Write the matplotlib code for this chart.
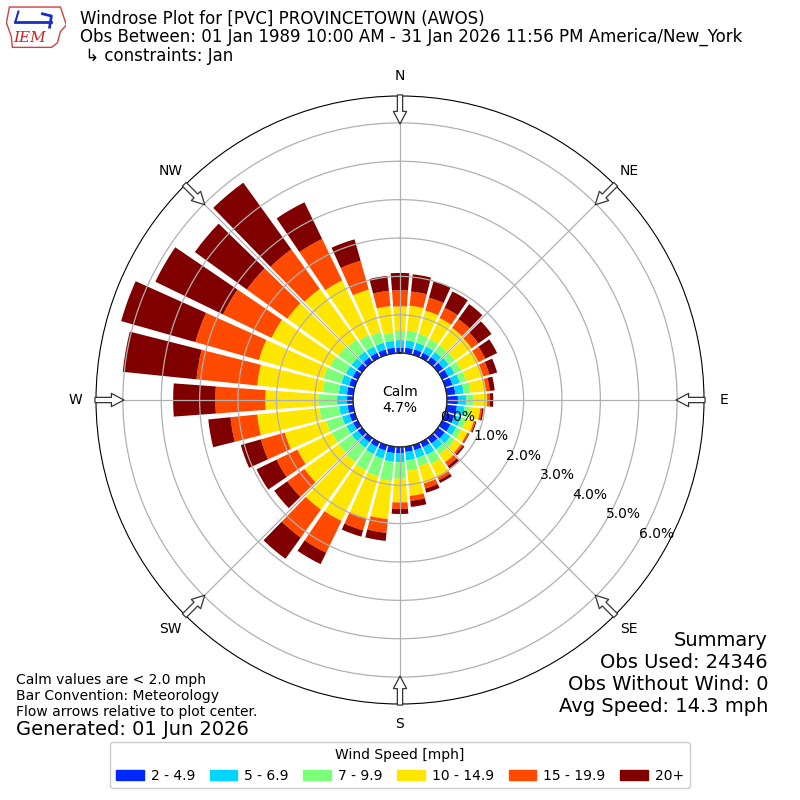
#!/usr/bin/env python3
import numpy as np
import matplotlib
matplotlib.use("Agg")
import matplotlib.pyplot as plt
from matplotlib.patches import Rectangle, Polygon

# wind directions (deg, meteorological) and frequency [%] per speed bin
directions = np.arange(0, 360, 10)
speed_labels = ["2 - 4.9", "5 - 6.9", "7 - 9.9", "10 - 14.9", "15 - 19.9", "20+"]
colors = ["#0028ff", "#00d4ff", "#7cff79", "#ffe600", "#ff4a00", "#800000"]

s2_5 = [0.15, 0.15, 0.15, 0.15, 0.16, 0.17, 0.18, 0.20, 0.23, 0.29, 0.27, 0.25,
        0.24, 0.22, 0.18, 0.15, 0.14, 0.14, 0.17, 0.17, 0.15, 0.14, 0.14, 0.14,
        0.14, 0.15, 0.15, 0.16, 0.17, 0.16, 0.15, 0.15, 0.15, 0.15, 0.15, 0.15]
s5_7 = [0.19, 0.19, 0.18, 0.18, 0.17, 0.18, 0.18, 0.20, 0.22, 0.22, 0.20, 0.18,
        0.17, 0.18, 0.19, 0.22, 0.21, 0.22, 0.23, 0.23, 0.22, 0.21, 0.18, 0.19,
        0.19, 0.20, 0.22, 0.26, 0.21, 0.21, 0.20, 0.19, 0.19, 0.18, 0.18, 0.18]
s7_10 = [0.24, 0.26, 0.24, 0.22, 0.21, 0.20, 0.19, 0.17, 0.18, 0.19, 0.15, 0.14,
         0.14, 0.14, 0.16, 0.26, 0.22, 0.27, 0.43, 0.50, 0.48, 0.47, 0.46, 0.42,
         0.42, 0.43, 0.52, 0.49, 0.42, 0.48, 0.45, 0.42, 0.38, 0.33, 0.29, 0.21]
s10_15 = [0.64, 0.65, 0.63, 0.60, 0.56, 0.53, 0.50, 0.46, 0.40, 0.35, 0.26, 0.21,
          0.18, 0.20, 0.25, 0.39, 0.47, 0.66, 0.62, 1.00, 1.13, 1.46, 1.52, 1.10,
          1.00, 1.12, 1.63, 1.38, 1.72, 1.75, 1.70, 1.64, 1.63, 1.58, 1.15, 0.70]
s15_20 = [0.42, 0.37, 0.35, 0.30, 0.28, 0.22, 0.20, 0.17, 0.10, 0.07, 0.05, 0.04,
          0.04, 0.06, 0.12, 0.08, 0.14, 0.13, 0.17, 0.36, 0.33, 0.92, 0.90, 0.55,
          0.60, 0.65, 0.70, 1.30, 1.59, 1.72, 1.40, 1.30, 1.27, 1.20, 0.78, 0.40]
s20p = [0.45, 0.45, 0.44, 0.47, 0.48, 0.42, 0.34, 0.21, 0.13, 0.09, 0.04, 0.03,
        0.02, 0.05, 0.08, 0.08, 0.11, 0.16, 0.13, 0.21, 0.17, 0.33, 0.68, 0.42,
        0.58, 0.54, 0.58, 1.10, 1.93, 2.01, 1.96, 1.67, 2.14, 1.06, 0.58, 0.39]
series = [s2_5, s5_7, s7_10, s10_15, s15_20, s20p]

calm_pct = 4.7
rmax = 6.7
hole = 1.22

fig = plt.figure(figsize=(8, 8), dpi=100)
ax = fig.add_axes([0.12, 0.12, 0.76, 0.76], projection="polar")
ax.set_theta_zero_location("N")
ax.set_theta_direction(-1)
ax.set_rorigin(-hole)
ax.set_ylim(0, rmax)

theta = np.deg2rad(directions)
width = np.deg2rad(8.4)
bottom = np.zeros(len(directions))
handles = []
for vals, col, lab in zip(series, colors, speed_labels):
    vals = np.array(vals)
    ax.bar(theta, vals, width=width, bottom=bottom, color=col, edgecolor="none",
           zorder=2)
    bottom = bottom + vals
    handles.append(Rectangle((0, 0), 1, 1, color=col, label=lab))

# grid
ax.set_yticks(range(7))
ax.set_yticklabels([f"{v:.1f}%" for v in range(7)], fontsize=10)
ax.set_rlabel_position(120.5)
ax.set_thetagrids(range(0, 360, 45), labels=["N", "NE", "E", "SE", "S", "SW", "W", "NW"])
ax.tick_params(axis="x", pad=4, labelsize=10)
ax.grid(True, color="#b0b0b0", lw=0.9, zorder=3)
ax.set_axisbelow(False)
t = np.linspace(0, 2 * np.pi, 361)
ax.plot(t, np.zeros_like(t), color="k", lw=1, zorder=4)

# flow arrows at the frame
for d in range(0, 360, 45):
    ax.annotate("", xy=(np.deg2rad(d), rmax - 0.8), xytext=(np.deg2rad(d), rmax + 0.1),
                arrowprops=dict(arrowstyle="simple,head_length=0.9,head_width=0.95,tail_width=0.38",
                                fc="white", ec="#333333", lw=0.9),
                annotation_clip=False, zorder=5)

ax.text(0.5, 0.5, f"Calm\n{calm_pct}%", transform=ax.transAxes, ha="center",
        va="center", fontsize=10, zorder=6)

# titles
fig.text(0.1, 0.976, "Windrose Plot for [PVC] PROVINCETOWN (AWOS)", fontsize=12, va="center")
fig.text(0.1, 0.954, "Obs Between: 01 Jan 1989 10:00 AM - 31 Jan 2026 11:56 PM America/New_York",
         fontsize=12, va="center")
fig.text(0.1, 0.930, " \u21b3 constraints: Jan", fontsize=12, va="center")

# logo
lax = fig.add_axes([0.008, 0.938, 0.075, 0.056])
lax.set_xlim(0, 1)
lax.set_ylim(0, 1)
lax.axis("off")
iowa = [(0.05, 0.95), (0.9, 0.95), (0.95, 0.75), (1.0, 0.55), (0.9, 0.4),
        (0.85, 0.15), (0.75, 0.05), (0.1, 0.05), (0.08, 0.3), (0.0, 0.6)]
lax.add_patch(Polygon(iowa, closed=True, fc="white", ec="#d04040", lw=1))
lax.plot([0.15, 0.75], [0.62, 0.62], color="#1a2fbf", lw=2)
lax.plot([0.15, 0.2], [0.62, 0.85], color="#1a2fbf", lw=1.5)
lax.plot([0.6, 0.75, 0.72], [0.8, 0.75, 0.5], color="#1a2fbf", lw=2)
lax.text(0.38, 0.25, "IEM", color="#d02020", fontsize=11, family="serif",
         style="italic", ha="center", va="center")

# notes
fig.text(0.02, 0.150, "Calm values are < 2.0 mph", fontsize=10, va="center")
fig.text(0.02, 0.130, "Bar Convention: Meteorology", fontsize=10, va="center")
fig.text(0.02, 0.110, "Flow arrows relative to plot center.", fontsize=10, va="center")
fig.text(0.02, 0.088, "Generated: 01 Jun 2026", fontsize=14, va="center")

summary = ["Summary", "Obs Used: 24346", "Obs Without Wind: 0", "Avg Speed: 14.3 mph"]
for i, line in enumerate(summary):
    fig.text(0.96, 0.200 - i * 0.0275, line, fontsize=14, ha="right", va="center")

fig.legend(handles=handles, loc="lower center", bbox_to_anchor=(0.5, 0.006), ncol=6,
           title="Wind Speed [mph]", fontsize=10, title_fontsize=10,
           handlelength=2.0, handletextpad=0.5, columnspacing=1.05, framealpha=1)

fig.savefig("out.png", dpi=100)
